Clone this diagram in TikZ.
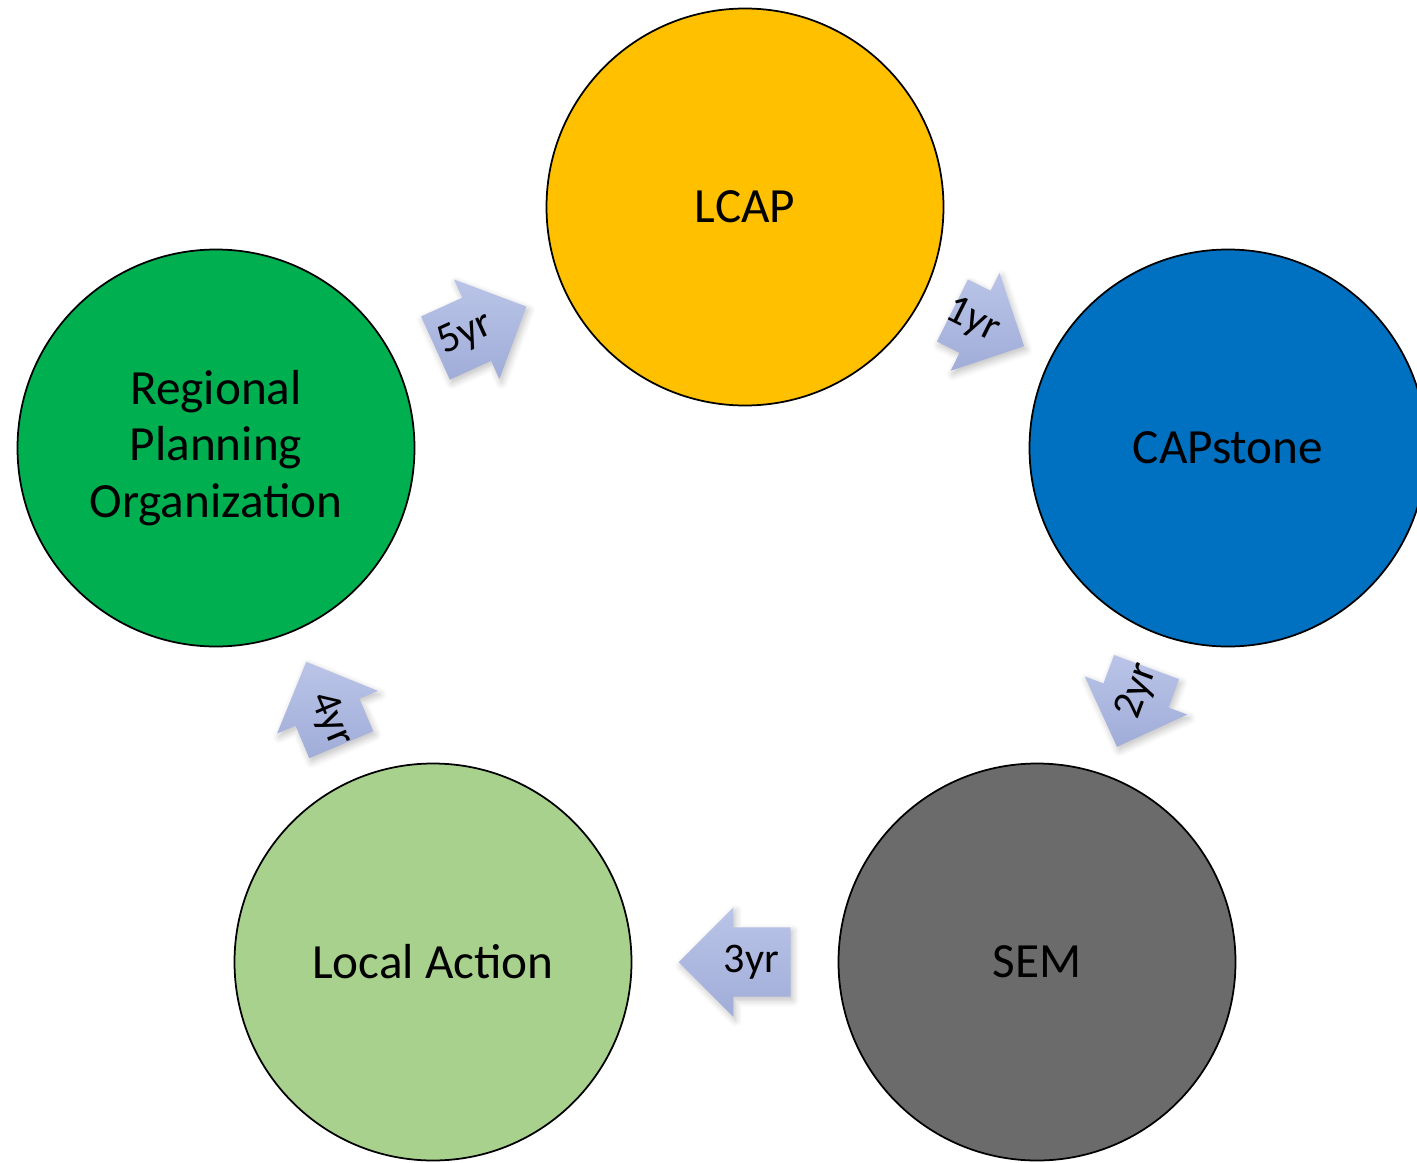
\documentclass[tikz,border=0pt]{standalone}
\usepackage{fontspec}
\setmainfont{Carlito}
\usepackage{xcolor}
\usetikzlibrary{shapes.arrows,shadows.blur}
\definecolor{lcapyellow}{HTML}{FFC000}
\definecolor{capblue}{HTML}{0070C0}
\definecolor{semgray}{HTML}{6B6B6B}
\definecolor{localgreen}{HTML}{A9D18E}
\definecolor{rpogreen}{HTML}{00B050}
\definecolor{arrowtop}{RGB}{186,196,232}
\definecolor{arrowbottom}{RGB}{160,173,216}

\begin{document}
\begin{tikzpicture}[main/.style = {draw, circle, line width=0.5pt, minimum size=3.97cm, inner sep=0pt, align=center, font=\fontsize{14}{16}\selectfont},
  yr/.style = {single arrow, single arrow head extend=0.2cm, minimum width=1.08cm, inner sep=0pt, text height=0.34cm, text depth=0.34cm, draw=none,
    top color=arrowtop, bottom color=arrowbottom, sloped, anchor=tail, pos=0.225,
    blur shadow={shadow blur steps=6, shadow xshift=0.6pt, shadow yshift=-1pt, shadow opacity=25}},
  back/.style = {shape border rotate=180},
  yrtext/.style = {sloped, inner sep=0pt, font=\fontsize{12}{12}\selectfont}]
    \useasboundingbox (0,0) rectangle (14.17,11.62);
    \node[main, fill=lcapyellow](1) at (7.45,9.55){LCAP};
    \node[main, fill=capblue](2) at (12.28,7.14){CAPstone};
    \node[main, fill=semgray](3) at (10.37,2.0){SEM};
    \node[main, fill=localgreen](4) at (4.33,2.0){Local Action};
    \node[main, fill=rpogreen](5) at (2.16,7.14){Regional\\Planning\\Organization};

    \path
    (1) -- node[yr, minimum height=0.80cm]{} node[yrtext, pos=0.39]{1yr} (2)
    (2) -- node[yr, back, minimum height=0.85cm]{} node[yrtext, pos=0.40]{2yr} (3)
    (3) -- node[yr, back, minimum height=1.12cm]{} node[yrtext, pos=0.42]{3yr} (4)
    (4) -- node[yr, back, minimum height=0.90cm]{} node[yrtext, pos=0.40]{4yr} (5)
    (5) -- node[yr, minimum height=1.00cm]{} node[yrtext, pos=0.41]{5yr} (1)
    ;
\end{tikzpicture}
\end{document}
